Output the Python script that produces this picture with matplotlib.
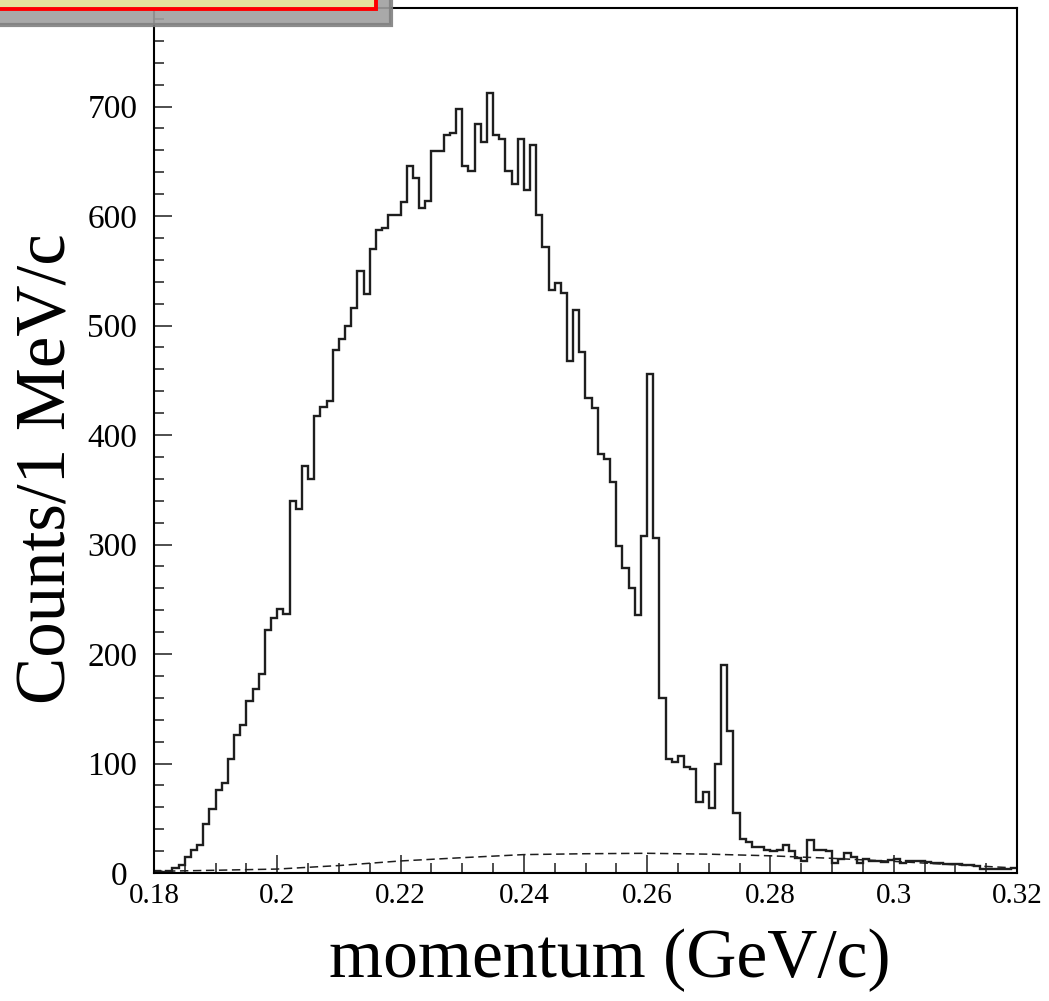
import numpy as np
import matplotlib
matplotlib.use("Agg")
import matplotlib.pyplot as plt
from matplotlib.patches import Rectangle
from matplotlib.transforms import ScaledTranslation

INK = "#1e1e1e"
BOX_FILL = "#e5e59c"
BOX_EDGE = "#ff0000"
SHADOW = "#a0a0a0"
SHADOW_EDGE = "#808080"

# momentum histogram, 1 MeV/c bins from 0.18 to 0.32 GeV/c
X_LO, X_HI = 0.18, 0.32
counts = [
    2, 1, 2, 5, 7, 15, 21, 26, 45, 58,
    76, 82, 104, 126, 135, 157, 168, 182, 222, 233,
    241, 237, 340, 332, 372, 360, 417, 426, 431, 478,
    488, 500, 516, 550, 529, 570, 587, 589, 601, 601,
    613, 646, 635, 607, 614, 659, 659, 674, 676, 698,
    646, 641, 684, 668, 712, 674, 670, 641, 629, 670,
    624, 665, 601, 572, 532, 539, 530, 468, 514, 476,
    434, 425, 383, 378, 357, 299, 279, 260, 236, 308,
    456, 306, 160, 104, 101, 107, 97, 95, 65, 74,
    59, 100, 190, 130, 55, 31, 28, 24, 24, 21,
    20, 21, 26, 20, 14, 11, 30, 21, 21, 20,
    9, 13, 18, 15, 9, 13, 11, 11, 10, 12,
    13, 9, 11, 11, 11, 10, 9, 9, 8, 8,
    8, 7, 7, 6, 4, 4, 4, 4, 4, 5,
]

# background estimate (dashed)
bg_x = [0.18, 0.19, 0.20, 0.21, 0.22, 0.23, 0.24, 0.25,
        0.26, 0.27, 0.28, 0.29, 0.30, 0.31, 0.32]
bg_y = [1.5, 2.5, 3.6, 6.8, 11.0, 14.0, 16.8, 17.6,
        18.0, 17.2, 15.7, 13.4, 10.6, 7.5, 4.5]

x_ticks = [0.18, 0.20, 0.22, 0.24, 0.26, 0.28, 0.30, 0.32]
x_tick_labels = ["0.18", "0.2", "0.22", "0.24", "0.26", "0.28", "0.3", "0.32"]
y_ticks = [0, 100, 200, 300, 400, 500, 600, 700]
Y_MAX = 790

W, H = 1049, 1001


def main():
    plt.rcParams["font.family"] = ["Liberation Serif", "DejaVu Serif"]
    fig = plt.figure(figsize=(W / 100, H / 100), dpi=100)
    fig.patch.set_facecolor("white")
    ax = fig.add_axes([154 / W, 1 - 873 / H, (1017 - 154) / W, (873 - 8) / H])

    edges = np.linspace(X_LO, X_HI, len(counts) + 1)
    ax.stairs(counts, edges, baseline=None, color=INK, lw=1.7)
    ax.plot(bg_x, bg_y, color=INK, lw=1.1, ls=(0, (5.5, 3)))

    ax.set_xlim(X_LO, X_HI)
    ax.set_ylim(0, Y_MAX)
    ax.set_xticks(x_ticks)
    ax.set_xticklabels(x_tick_labels)
    ax.set_xticks(np.arange(X_LO, X_HI + 1e-9, 0.005), minor=True)
    ax.set_yticks(y_ticks)
    ax.set_yticks(np.arange(0, Y_MAX, 20), minor=True)

    ax.tick_params(which="both", direction="in", top=False, right=False,
                   color=INK, width=1.1)
    ax.tick_params(which="major", length=13)
    ax.tick_params(which="minor", length=7)
    ax.tick_params(axis="y", which="major", labelsize=24, pad=12)
    ax.tick_params(axis="x", which="major", labelsize=21, pad=7)
    for s in ax.spines.values():
        s.set_linewidth(1.5)
        s.set_color("black")

    # the "0" sits a little left of the other y labels, clear of "0.18"
    zero = ax.get_yticklabels()[0]
    zero.set_transform(zero.get_transform()
                       + ScaledTranslation(-7 / 72, 0, fig.dpi_scale_trans))

    ax.set_xlabel("momentum (GeV/c)", fontsize=50)
    ax.set_ylabel("Counts/1 MeV/c", fontsize=51)
    ax.xaxis.set_label_coords(0.528, -0.101)
    ax.yaxis.set_label_coords(-0.123, 0.467)
    ax.xaxis.label.set_va("center")
    ax.yaxis.label.set_va("center")

    # stat/title box in the corner, mostly outside the canvas
    shadow = Rectangle((-20 / W, 1 - 25 / H), (391 + 20) / W, 60 / H,
                       transform=fig.transFigure, facecolor=SHADOW,
                       edgecolor=SHADOW_EDGE, lw=3, alpha=0.9,
                       clip_on=False, zorder=5)
    box = Rectangle((-20 / W, 1 - 9.2 / H), (376 + 20) / W, 60 / H,
                    transform=fig.transFigure, facecolor=BOX_FILL,
                    edgecolor=BOX_EDGE, lw=2.8, clip_on=False, zorder=6)
    fig.patches.extend([shadow, box])

    fig.savefig("out.png", dpi=100, facecolor="white")


if __name__ == "__main__":
    main()
